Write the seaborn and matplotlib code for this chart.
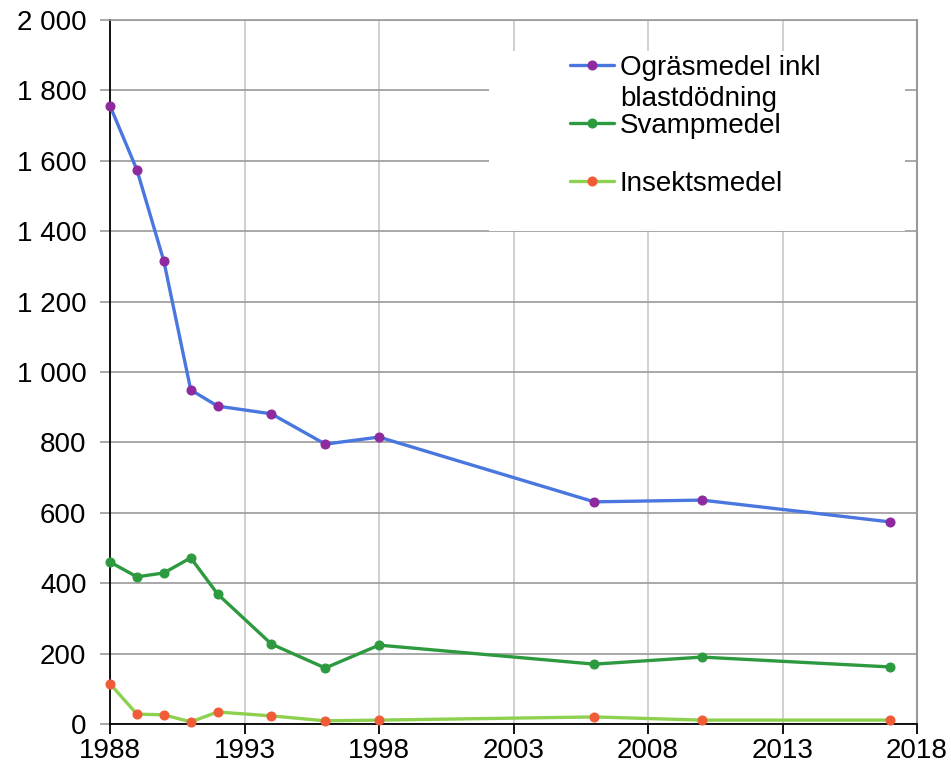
import matplotlib
matplotlib.use("Agg")
from matplotlib import pyplot as plt
from matplotlib.ticker import FuncFormatter
import seaborn as sns
import pandas as pd

years = [1988, 1989, 1990, 1991, 1992, 1994, 1996, 1998, 2006, 2010, 2017]
ograsmedel = [1756, 1574, 1315, 949, 903, 881, 795, 815, 631, 636, 574]
svampmedel = [460, 418, 429, 472, 369, 227, 159, 224, 170, 190, 162]
insektsmedel = [114, 28, 26, 6, 34, 23, 9, 11, 20, 11, 11]

x_ticks = [1988, 1993, 1998, 2003, 2008, 2013, 2018]
y_ticks = [0, 200, 400, 600, 800, 1000, 1200, 1400, 1600, 1800, 2000]

df = pd.DataFrame({"year": years, "ogras": ograsmedel,
                   "svamp": svampmedel, "insekt": insektsmedel})

sns.set_style("white")
plt.rcParams["font.family"] = ["Liberation Sans", "DejaVu Sans"]
plt.rcParams["text.color"] = "black"
plt.rcParams["xtick.color"] = "black"
plt.rcParams["ytick.color"] = "black"

fig = plt.figure(figsize=(9.51, 7.72), dpi=100)
ax = fig.add_axes([0.1157, 0.0622, 0.8486, 0.912])

series = [
    ("ogras", "Ogräsmedel inkl", "#4a76e0", "#8e2a9e"),
    ("svamp", "Svampmedel", "#2e9a40", "#2e9a40"),
    ("insekt", "Insektsmedel", "#8ed151", "#f05c38"),
]
for col, label, lc, mc in series:
    sns.lineplot(data=df, x="year", y=col, ax=ax, color=lc, linewidth=2.4,
                 marker="o", markersize=6.5, markerfacecolor=mc,
                 markeredgecolor=mc, label=label, clip_on=False, zorder=3)

ax.set_xlim(1988, 2018)
ax.set_ylim(0, 2000)
ax.set_xticks(x_ticks)
ax.set_yticks(y_ticks)
ax.yaxis.set_major_formatter(FuncFormatter(lambda v, p: f"{int(v):,}".replace(",", " ")))
ax.set_xlabel("")
ax.set_ylabel("")

ax.grid(axis="y", color="#9a9a9a", linewidth=1.2)
ax.grid(axis="x", color="#c8c8c8", linewidth=1.2)
ax.set_axisbelow(True)

for s in ["left", "bottom"]:
    ax.spines[s].set_color("black")
    ax.spines[s].set_linewidth(1.3)
ax.spines["right"].set_color("#9a9a9a")
ax.spines["right"].set_linewidth(1.5)
ax.spines["top"].set_color("#9a9a9a")
ax.spines["top"].set_linewidth(1.2)

ax.tick_params(axis="x", direction="out", length=7, width=1.3, color="black",
               labelsize=20, pad=3, bottom=True, labelcolor="black")
ax.tick_params(axis="y", direction="out", length=7, width=1.2, color="#9a9a9a",
               labelsize=20, pad=10, left=True, labelcolor="black")

# white patch behind legend hides the grid
ax.add_patch(plt.Rectangle((0.47, 0.70), 0.515, 0.256, transform=ax.transAxes,
                           facecolor="white", edgecolor="none", zorder=1.5))

leg = ax.legend(loc="upper left", bbox_to_anchor=(0.556, 0.966), frameon=False,
                fontsize=20, handlelength=1.6, handletextpad=0.2,
                labelspacing=1.15, borderaxespad=0)
ax.text(0.632, 0.878, "blastdödning", transform=ax.transAxes, fontsize=20,
        va="baseline", ha="left", zorder=5)

fig.savefig("out.png", dpi=100)
